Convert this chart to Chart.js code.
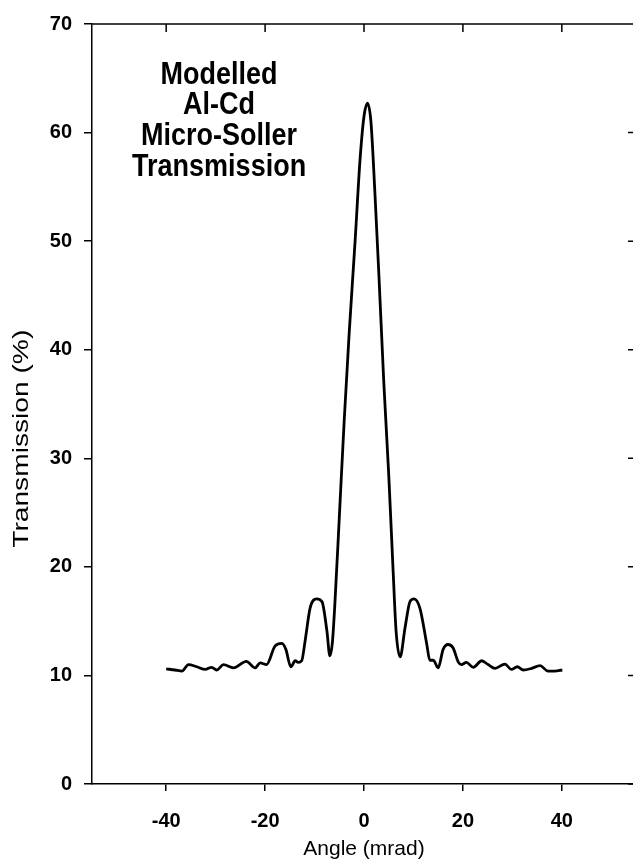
<!DOCTYPE html>
<html>
<head>
<meta charset="utf-8">
<script src="https://cdn.jsdelivr.net/npm/chart.js@4.4.0/dist/chart.umd.min.js"></script>
<style>
  html, body { margin: 0; padding: 0; background: #fff; overflow: hidden; }
  #wrap { width: 640px; height: 861px; }
</style>
</head>
<body>
<div id="wrap"><canvas id="myChart" width="640" height="861"></canvas></div>
<script>
// values (angle in mrad, transmission in %)
const angle = [
    -40.0, -38.2, -36.8, -35.5, -33.8, -32.1, -30.8, -29.8, -28.4, -26.4,
    -23.8, -22.0, -21.0, -19.7, -18.0, -16.6, -15.8, -14.8, -13.9, -13.3,
    -12.6, -11.9, -10.9, -9.6, -8.5, -7.5, -6.9, -6.4, -5.9, -5.0,
    -4.0, -3.0, -1.8, -0.8, 0.0, 0.7, 1.4, 2.2, 3.0, 4.0,
    5.0, 5.9, 6.5, 7.3, 8.3, 9.3, 10.1, 11.3, 12.7, 13.3,
    14.0, 15.0, 16.0, 17.0, 18.0, 19.1, 19.7, 20.7, 22.1, 23.8,
    25.1, 26.5, 28.5, 29.8, 31.0, 32.2, 33.9, 35.6, 37.2, 38.6,
    40.1
];
const transmission = [
    10.6, 10.5, 10.4, 11.0, 10.8, 10.55, 10.75, 10.5, 11.0, 10.7,
    11.3, 10.7, 11.15, 11.0, 12.7, 12.95, 12.4, 10.8, 11.35, 11.2,
    11.35, 13.2, 16.2, 17.05, 16.8, 14.1, 11.8, 13.0, 16.5, 24.5,
    33.5, 41.5, 50.0, 57.5, 61.5, 62.7, 61.0, 54.5, 47.0, 37.0,
    28.5, 19.5, 14.0, 11.7, 14.4, 16.8, 17.05, 16.2, 12.85, 11.4,
    11.4, 10.7, 12.4, 12.85, 12.55, 11.2, 11.0, 11.2, 10.75, 11.35,
    11.0, 10.65, 11.05, 10.55, 10.8, 10.5, 10.65, 10.9, 10.4, 10.4,
    10.5
];

const xTicks = [-40, -20, 0, 20, 40];
const yTicks = [0, 10, 20, 30, 40, 50, 60, 70];
const noteLines = ["Modelled", "Al-Cd", "Micro-Soller", "Transmission"];
const noteAt = { x: -29.3, y: 65.3 };
const yTitle = "Transmission (%)";
const yTitleAt = 31.8; // value on the y axis where the rotated title is centred

const fontFam = "'Liberation Sans', Arial, sans-serif";
const tickFont = { family: fontFam, size: 20, weight: 'bold' };

// top and right frame with inward ticks, the y title and the text block
const frameTicks = {
    id: 'frameTicks',
    afterDraw(chart) {
        const ctx = chart.ctx;
        const a = chart.chartArea;
        const x = chart.scales.x;
        const y = chart.scales.y;
        ctx.save();
        ctx.strokeStyle = '#000';
        ctx.lineWidth = 1.5;
        ctx.beginPath();
        ctx.moveTo(a.left, a.top);
        ctx.lineTo(a.right, a.top);
        ctx.lineTo(a.right, a.bottom);
        xTicks.forEach(function(v) {
            let px = x.getPixelForValue(v);
            ctx.moveTo(px, a.top);
            ctx.lineTo(px, a.top + 8);
        });
        yTicks.forEach(function(v) {
            let py = y.getPixelForValue(v);
            ctx.moveTo(a.right, py);
            ctx.lineTo(a.right - 8, py);
        });
        ctx.stroke();

        ctx.fillStyle = '#000';
        ctx.textAlign = 'center';
        ctx.textBaseline = 'middle';

        // rotated y title, drawn a bit long like the printed figure
        ctx.save();
        ctx.translate(22, y.getPixelForValue(yTitleAt));
        ctx.rotate(-Math.PI / 2);
        ctx.scale(1.28, 1);
        ctx.font = "22px " + fontFam;
        ctx.fillText(yTitle, 0, 0);
        ctx.restore();

        // text block, slightly tall letters
        let cx = x.getPixelForValue(noteAt.x);
        let cy = y.getPixelForValue(noteAt.y);
        ctx.font = "bold 27px " + fontFam;
        noteLines.forEach(function(s, i) {
            ctx.save();
            ctx.translate(cx, cy + i * 30.7);
            ctx.scale(1, 1.15);
            ctx.fillText(s, 0, 0);
            ctx.restore();
        });
        ctx.restore();
    }
};

const data = {
    datasets: [{
        label: 'Transmission',
        data: angle.map(function(v, i) { return { x: v, y: transmission[i] }; }),
        borderColor: '#000',
        borderWidth: 2.8,
        pointRadius: 0,
        fill: false,
        cubicInterpolationMode: 'monotone'
    }]
};

const config = {
    type: 'line',
    data: data,
    plugins: [frameTicks],
    options: {
        responsive: false,
        animation: false,
        devicePixelRatio: 1,
        layout: { padding: { top: 19, right: 4, left: 0, bottom: 0 } },
        plugins: { legend: { display: false }, tooltip: { enabled: false } },
        scales: {
            x: {
                type: 'linear',
                min: -55,
                max: 55,
                afterBuildTicks: function(scale) {
                    scale.ticks = xTicks.map(function(v) { return { value: v }; });
                },
                afterFit: function(scale) { scale.height = 77; },
                grid: { drawOnChartArea: false, color: '#000', lineWidth: 1.5, tickLength: 7 },
                border: { color: '#000', width: 1.5 },
                ticks: { color: '#000', font: tickFont, padding: 18, maxRotation: 0 },
                title: {
                    display: true,
                    text: 'Angle (mrad)',
                    color: '#000',
                    font: { family: fontFam, size: 21, lineHeight: 1.1 },
                    padding: { top: 0, bottom: 0 }
                }
            },
            y: {
                type: 'linear',
                min: 0,
                max: 70,
                afterBuildTicks: function(scale) {
                    scale.ticks = yTicks.map(function(v) { return { value: v }; });
                },
                afterFit: function(scale) { scale.width = 92; },
                grid: { drawOnChartArea: false, color: '#000', lineWidth: 1.5, tickLength: 8 },
                border: { color: '#000', width: 1.5 },
                ticks: { color: '#000', font: tickFont, padding: 12 },
                title: { display: false }
            }
        }
    }
};

var myChart = new Chart(document.getElementById('myChart'), config);
</script>
</body>
</html>
